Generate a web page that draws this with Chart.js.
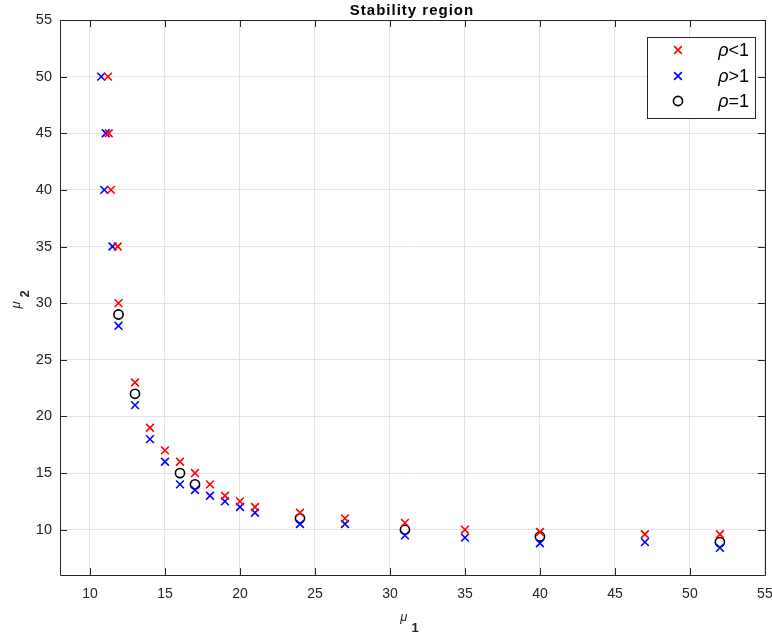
<!DOCTYPE html>
<html>
<head>
<meta charset="utf-8">
<script src="https://cdn.jsdelivr.net/npm/chart.js@4/dist/chart.umd.min.js"></script>
<style>
  html, body { margin: 0; padding: 0; background: #fff; }
  #wrap { width: 772px; height: 639px; position: relative; }
</style>
</head>
<body>
<div id="wrap"><canvas id="c" width="772" height="639"></canvas></div>
<script>
// ---- data ----
const chartTitle = 'Stability region';
const seriesNames = ['ρ<1', 'ρ>1', 'ρ=1'];
const redX  = [11.2, 11.25, 11.4, 11.85, 11.9, 13, 14, 15, 16, 17, 18, 19, 20, 21, 24, 27, 31, 35, 40, 47, 52];
const redY  = [50, 45, 40, 35, 30, 23, 19, 17, 16, 15, 14, 13, 12.5, 12, 11.5, 11, 10.6, 10, 9.8, 9.6, 9.6];
const blueX = [10.75, 11.05, 10.95, 11.5, 11.9, 13, 14, 15, 16, 17, 18, 19, 20, 21, 24, 27, 31, 35, 40, 47, 52];
const blueY = [50, 45, 40, 35, 28, 21, 18, 16, 14, 13.5, 13, 12.5, 12, 11.5, 10.5, 10.5, 9.5, 9.3, 8.8, 8.9, 8.4];
const oneX  = [11.9, 13, 16, 17, 24, 31, 40, 52];
const oneY  = [29, 22, 15, 14, 11, 10, 9.4, 8.9];
const xTicks = [10, 15, 20, 25, 30, 35, 40, 45, 50, 55];
const yTicks = [10, 15, 20, 25, 30, 35, 40, 45, 50, 55];
const xRange = [8, 55];
const yRange = [6, 55];

const toPts = (xs, ys) => xs.map((x, i) => ({ x: x, y: ys[i] }));

const AX = '#262626';
const FONT = '"Liberation Sans", Arial, Helvetica, sans-serif';

const boxPlugin = {
  id: 'matlabBox',
  afterDraw(chart) {
    const { ctx, chartArea: a, scales } = chart;
    const tl = 7;
    ctx.save();
    ctx.strokeStyle = AX;
    ctx.lineWidth = 1;
    ctx.beginPath();
    ctx.rect(Math.round(a.left) + 0.5, Math.round(a.top) + 0.5, Math.round(a.right - a.left), Math.round(a.bottom - a.top));
    ctx.stroke();
    ctx.beginPath();
    xTicks.forEach(v => {
      const px = Math.round(scales.x.getPixelForValue(v)) + 0.5;
      ctx.moveTo(px, a.bottom); ctx.lineTo(px, a.bottom - tl);
      ctx.moveTo(px, a.top); ctx.lineTo(px, a.top + tl);
    });
    yTicks.forEach(v => {
      const py = Math.round(scales.y.getPixelForValue(v)) + 0.5;
      ctx.moveTo(a.left, py); ctx.lineTo(a.left + tl, py);
      ctx.moveTo(a.right, py); ctx.lineTo(a.right - tl, py);
    });
    ctx.stroke();

    // title
    const cx = (a.left + a.right) / 2;
    ctx.fillStyle = '#000';
    ctx.font = 'bold 15px ' + FONT;
    ctx.letterSpacing = '1px';
    ctx.textAlign = 'center';
    ctx.textBaseline = 'alphabetic';
    ctx.fillText(chartTitle, 412, 15);
    ctx.letterSpacing = '0px';

    // axis labels
    ctx.fillStyle = AX;
    ctx.font = 'italic 13px ' + FONT;
    ctx.textAlign = 'right';
    ctx.fillText('μ', cx - 5, 621);
    ctx.font = 'bold 13px ' + FONT;
    ctx.textAlign = 'left';
    ctx.fillText('1', cx - 1, 632);

    ctx.save();
    const cy = (a.top + a.bottom) / 2;
    ctx.translate(20, cy);
    ctx.rotate(-Math.PI / 2);
    ctx.font = 'italic 13px ' + FONT;
    ctx.textAlign = 'right';
    ctx.fillText('μ', -4, 0);
    ctx.font = 'bold 13px ' + FONT;
    ctx.textAlign = 'left';
    ctx.fillText('2', 0, 9);
    ctx.restore();

    // legend
    const L = 647, T = 37, R = 755, B = 118;
    const mx = 678;
    ctx.fillStyle = '#fff';
    ctx.fillRect(L, T, R - L, B - T);
    ctx.strokeStyle = AX;
    ctx.lineWidth = 1;
    ctx.strokeRect(L + 0.5, T + 0.5, R - L, B - T);
    const rows = [50, 76, 101];
    chart.data.datasets.forEach((ds, i) => {
      ctx.strokeStyle = ds.borderColor;
      ctx.lineWidth = ds.pointBorderWidth;
      ctx.beginPath();
      if (ds.pointStyle === 'circle') {
        ctx.arc(mx, rows[i], ds.pointRadius, 0, Math.PI * 2);
      } else {
        const d = ds.pointRadius * Math.SQRT1_2;
        ctx.moveTo(mx - d, rows[i] - d); ctx.lineTo(mx + d, rows[i] + d);
        ctx.moveTo(mx - d, rows[i] + d); ctx.lineTo(mx + d, rows[i] - d);
      }
      ctx.stroke();
      const name = ds.label;
      ctx.fillStyle = '#000';
      ctx.textAlign = 'left';
      ctx.textBaseline = 'middle';
      ctx.font = '18px ' + FONT;
      const rest = name.slice(1);
      const wRest = ctx.measureText(rest).width;
      ctx.font = 'italic 18px ' + FONT;
      const wRho = ctx.measureText(name[0]).width;
      const x0 = 749 - wRest - wRho;
      ctx.fillText(name[0], x0, rows[i] + 1);
      ctx.font = '18px ' + FONT;
      ctx.fillText(rest, x0 + wRho, rows[i] + 1);
    });
    ctx.restore();
  }
};

new Chart(document.getElementById('c'), {
  type: 'scatter',
  data: {
    datasets: [
      { label: seriesNames[0], data: toPts(redX, redY), pointStyle: 'crossRot', pointRadius: 5.5, pointBorderWidth: 1.6,
        borderColor: '#ff0000', backgroundColor: '#ff0000', pointHoverRadius: 5.5 },
      { label: seriesNames[1], data: toPts(blueX, blueY), pointStyle: 'crossRot', pointRadius: 5.5, pointBorderWidth: 1.6,
        borderColor: '#0000ff', backgroundColor: '#0000ff', pointHoverRadius: 5.5 },
      { label: seriesNames[2], data: toPts(oneX, oneY), pointStyle: 'circle', pointRadius: 4.6, pointBorderWidth: 1.6,
        borderColor: '#000000', backgroundColor: 'rgba(0,0,0,0)', pointHoverRadius: 4.6 }
    ]
  },
  options: {
    responsive: false,
    animation: false,
    events: [],
    layout: { padding: { top: 20, right: 6, left: 0, bottom: 0 } },
    plugins: {
      legend: { display: false },
      tooltip: { enabled: false },
      title: { display: false }
    },
    scales: {
      x: {
        type: 'linear', min: xRange[0], max: xRange[1],
        afterBuildTicks: s => { s.ticks = xTicks.map(v => ({ value: v })); },
        afterFit: s => { s.height = 64; s.paddingLeft = 0; s.paddingRight = 0; },
        grid: { color: '#e3e3e3', drawTicks: false, lineWidth: 1 },
        border: { display: false },
        ticks: { color: AX, padding: 11, font: { family: FONT, size: 14 }, maxRotation: 0 }
      },
      y: {
        type: 'linear', min: yRange[0], max: yRange[1],
        afterBuildTicks: s => { s.ticks = yTicks.map(v => ({ value: v })); },
        afterFit: s => { s.width = 60; s.paddingTop = 0; s.paddingBottom = 0; },
        grid: { color: '#e3e3e3', drawTicks: false, lineWidth: 1 },
        border: { display: false },
        ticks: { color: AX, padding: 8, font: { family: FONT, size: 14.5 } }
      }
    }
  },
  plugins: [boxPlugin]
});
</script>
</body>
</html>
